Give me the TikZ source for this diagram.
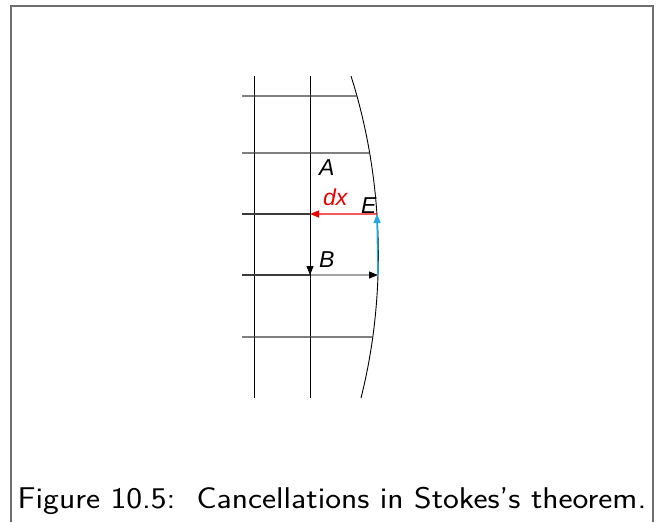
\documentclass[tikz,border=0pt]{standalone}
\usepackage{fontspec}
\newfontfamily\labelfont{Liberation Sans}
\usetikzlibrary{arrows.meta,intersections}
\definecolor{inkFrame}{RGB}{110, 110, 110}
\definecolor{inkRow}{RGB}{60, 60, 60}
\definecolor{vecRed}{RGB}{235, 0, 0}
\definecolor{vecBlue}{RGB}{30, 170, 225}

\begin{document}
\begin{tikzpicture}[
      x=1pt, y=-1pt,
      gridline/.style={black, line width=0.9pt},
      rowline/.style={inkRow, line width=1.1pt},
      frameline/.style={draw=inkFrame, line width=1.6pt},
      lbl/.style={font=\fontsize{23pt}{26pt}\selectfont\labelfont\itshape, inner sep=0pt, anchor=base west},
      arr/.style={-{Triangle[length=9pt, width=7pt]}, line width=0.9pt},
      vec/.style={-{Triangle[length=9pt, width=7pt]}, line width=1.4pt}
  ]
      \useasboundingbox (0,0) rectangle (661,522);
      % FRAME
      \draw[frameline] (11,522) -- (11,6) -- (653,6) -- (653,522);

      % GRID
      \draw[gridline, name path=bd] (351,76) .. controls (385,183) and (386,299) .. (361,398);
      \draw[gridline] (254,76) -- (254,398);
      \draw[gridline] (310,76) -- (310,398);
      \foreach \yy [count=\k] in {96,153,214,275,337} {
        \path[name path=row\k] (242,\yy) -- (420,\yy);
        \coordinate (w\k) at (242,\yy);
        \path[name intersections={of=bd and row\k, by={e\k}}];
      }
      \coordinate (c3) at (310,214);
      \coordinate (c4) at (310,275);
      \draw[rowline] (w1) -- (e1);
      \draw[rowline] (w2) -- (e2);
      \draw[rowline] (w3) -- (c3);
      \draw[rowline] (w4) -- (c4);
      \draw[rowline] (w5) -- (e5);

      % CELL ARROWS
      \draw[arr, black] (c3) -- (c4);
      \draw[arr, black] (c4) -- (e4);
      \draw[vec, vecRed] (e3) -- (c3);
      \draw[vec, vecBlue] (e4) -- (e3);

      % LABELS
      \node[lbl] (lA) at (319,175) {A};
      \node[lbl, text=vecRed] (ldx) at (323,205) {dx};
      \node[lbl] (lE) at (361,213) {E};
      \node[lbl] (lB) at (319,267) {B};

      % CAPTION
      \node[font=\fontsize{30pt}{34pt}\selectfont\sffamily, inner sep=0pt, anchor=base, xscale=1.12] (cap) at (332,508) {Figure 10.5:\ \ Cancellations in Stokes's theorem.};
  \end{tikzpicture}
\end{document}
